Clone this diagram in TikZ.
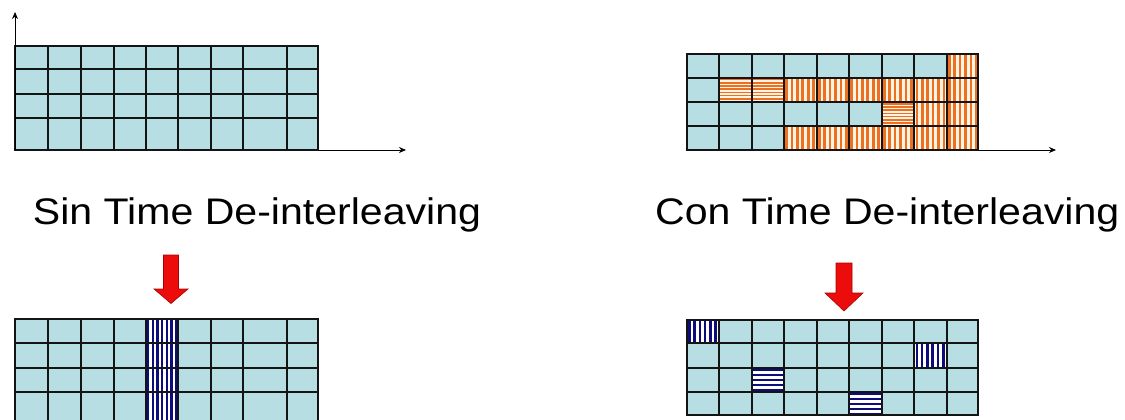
\documentclass[tikz,border=0pt]{standalone}
\usepackage{fontspec}
\setmainfont{Liberation Sans}
\usetikzlibrary{arrows.meta}

\definecolor{cellblue}{RGB}{183,223,227}
\definecolor{hatchorange}{RGB}{236,112,32}
\definecolor{hatchcream}{RGB}{255,244,228}
\definecolor{hatchnavy}{RGB}{12,12,125}
\definecolor{arrowred}{RGB}{236,12,12}
\definecolor{arrowedge}{RGB}{170,0,0}
\definecolor{gridink}{RGB}{20,20,20}

% column and row boundaries of the four frame grids
\def\LX{{15,48.3,81,114,145.7,178.3,210.7,243.3,286.7,318.3}}
\def\RX{{686.7,719,751.7,784,816.7,849,881.7,914.3,946.7,978.3}}
\def\TLY{{45.7,69.3,93.7,117.7,150}}
\def\TRY{{54,77.7,101.7,125.7,150}}
\def\BLY{{319.3,343.3,367.7,392.3,424}}
\def\BRY{{320,343.3,367.7,391.7,415}}

\tikzset{
  gridstyle/.style={draw=gridink, line width=1.9pt, line cap=rect},
  axisline/.style={draw=black, line width=0.8pt, -{Stealth[length=7pt,width=6pt]}},
  caption/.style={font=\fontsize{37}{40}\selectfont, inner sep=0pt},
  blockarrow/.style={fill=arrowred, draw=arrowedge, line width=0.6pt, line join=miter},
}

% light blue background of a 9x4 grid
\newcommand\gridfill[2]{%
  \pgfmathsetmacro\gxa{#1[0]}\pgfmathsetmacro\gxb{#1[9]}%
  \pgfmathsetmacro\gya{#2[0]}\pgfmathsetmacro\gyb{#2[4]}%
  \fill[cellblue] (\gxa,\gya) rectangle (\gxb,\gyb);}

% cell borders of a 9x4 grid
\newcommand\gridlines[2]{%
  \pgfmathsetmacro\gxa{#1[0]}\pgfmathsetmacro\gxb{#1[9]}%
  \pgfmathsetmacro\gya{#2[0]}\pgfmathsetmacro\gyb{#2[4]}%
  \foreach \i in {0,...,9}{\pgfmathsetmacro\gx{#1[\i]}\draw[gridstyle] (\gx,\gya) -- (\gx,\gyb);}
  \foreach \j in {0,...,4}{\pgfmathsetmacro\gy{#2[\j]}\draw[gridstyle] (\gxa,\gy) -- (\gxb,\gy);}}

% vertically striped cell: xs, ys, column, row, stripe colour, gap colour, period
\newcommand\vhatch[7]{%
  \pgfmathsetmacro\hxa{#1[#3]}\pgfmathsetmacro\hxb{#1[#3+1]}%
  \pgfmathsetmacro\hya{#2[#4]}\pgfmathsetmacro\hyb{#2[#4+1]}%
  \begin{scope}
    \clip (\hxa,\hya) rectangle (\hxb,\hyb);
    \fill[#6] (\hxa,\hya) rectangle (\hxb,\hyb);
    \foreach \k in {0,...,16}{%
      \pgfmathsetmacro\sa{\hxa+1.2+\k*#7}\pgfmathsetmacro\sb{\sa+#7*0.5}%
      \fill[#5] (\sa,\hya) rectangle (\sb,\hyb);}
  \end{scope}}

% horizontally striped cell
\newcommand\hhatch[7]{%
  \pgfmathsetmacro\hxa{#1[#3]}\pgfmathsetmacro\hxb{#1[#3+1]}%
  \pgfmathsetmacro\hya{#2[#4]}\pgfmathsetmacro\hyb{#2[#4+1]}%
  \begin{scope}
    \clip (\hxa,\hya) rectangle (\hxb,\hyb);
    \fill[#6] (\hxa,\hya) rectangle (\hxb,\hyb);
    \foreach \k in {0,...,16}{%
      \pgfmathsetmacro\sa{\hya+1.2+\k*#7}\pgfmathsetmacro\sb{\sa+#7*0.5}%
      \fill[#5] (\hxa,\sa) rectangle (\hxb,\sb);}
  \end{scope}}

% red block arrow pointing down: centre x, top, head base, tip, shaft half width, head half width
\newcommand\redblockarrow[6]{%
  \filldraw[blockarrow] ({#1-#5},#2) -- ({#1+#5},#2) -- ({#1+#5},#3) -- ({#1+#6},#3)
    -- (#1,#4) -- ({#1-#6},#3) -- ({#1-#5},#3) -- cycle;}

\begin{document}
\begin{tikzpicture}[x=1pt,y=-1pt]
  \useasboundingbox (0,0) rectangle (1125,420);
  \clip (0,0) rectangle (1125,420);
  \fill[white] (0,0) rectangle (1125,420);

  % --- frame without time de-interleaving (top left) ---
  \gridfill{\LX}{\TLY}
  \gridlines{\LX}{\TLY}
  \coordinate (tlorigin) at (15,150);
  \coordinate (tlytip) at (15,12);
  \coordinate (tlxstart) at (318.3,150);
  \coordinate (tlxtip) at (406,150);
  \draw[axisline] (tlorigin) -- (tlytip);
  \draw[axisline] (tlxstart) -- (tlxtip);

  % --- frame with time de-interleaving (top right) ---
  \gridfill{\RX}{\TRY}
  \vhatch{\RX}{\TRY}{8}{0}{hatchorange}{hatchcream}{5.4}
  \foreach \c in {3,...,8}{\vhatch{\RX}{\TRY}{\c}{1}{hatchorange}{hatchcream}{5.4}}
  \hhatch{\RX}{\TRY}{1}{1}{hatchorange}{hatchcream}{3.2}
  \hhatch{\RX}{\TRY}{2}{1}{hatchorange}{hatchcream}{3.2}
  \hhatch{\RX}{\TRY}{6}{2}{hatchorange}{hatchcream}{3.2}
  \vhatch{\RX}{\TRY}{7}{2}{hatchorange}{hatchcream}{5.4}
  \vhatch{\RX}{\TRY}{8}{2}{hatchorange}{hatchcream}{5.4}
  \foreach \c in {3,...,8}{\vhatch{\RX}{\TRY}{\c}{3}{hatchorange}{hatchcream}{5.4}}
  \gridlines{\RX}{\TRY}
  \coordinate (trxstart) at (978.3,150);
  \coordinate (trxtip) at (1056,150);
  \draw[axisline] (trxstart) -- (trxtip);

  % --- captions ---
  \node[caption, anchor=base west] (sincap) at (32.7,224.3)
    {\scalebox{1.11}[1]{Sin Time De-interleaving}};
  \node[caption, anchor=base west] (concap) at (655,224.3)
    {\scalebox{1.11}[1]{Con Time De-interleaving}};

  % --- block arrows ---
  \redblockarrow{171}{255}{289}{303.5}{7.5}{17}
  \redblockarrow{844}{263}{293}{311}{8}{19}

  % --- result without de-interleaving (bottom left) ---
  \gridfill{\LX}{\BLY}
  \foreach \r in {0,...,3}{\vhatch{\LX}{\BLY}{4}{\r}{hatchnavy}{white}{4.7}}
  \gridlines{\LX}{\BLY}

  % --- result with de-interleaving (bottom right) ---
  \gridfill{\RX}{\BRY}
  \vhatch{\RX}{\BRY}{0}{0}{hatchnavy}{white}{5.3}
  \vhatch{\RX}{\BRY}{7}{1}{hatchnavy}{white}{5.3}
  \hhatch{\RX}{\BRY}{2}{2}{hatchnavy}{white}{5}
  \hhatch{\RX}{\BRY}{5}{3}{hatchnavy}{white}{5}
  \gridlines{\RX}{\BRY}
\end{tikzpicture}
\end{document}
